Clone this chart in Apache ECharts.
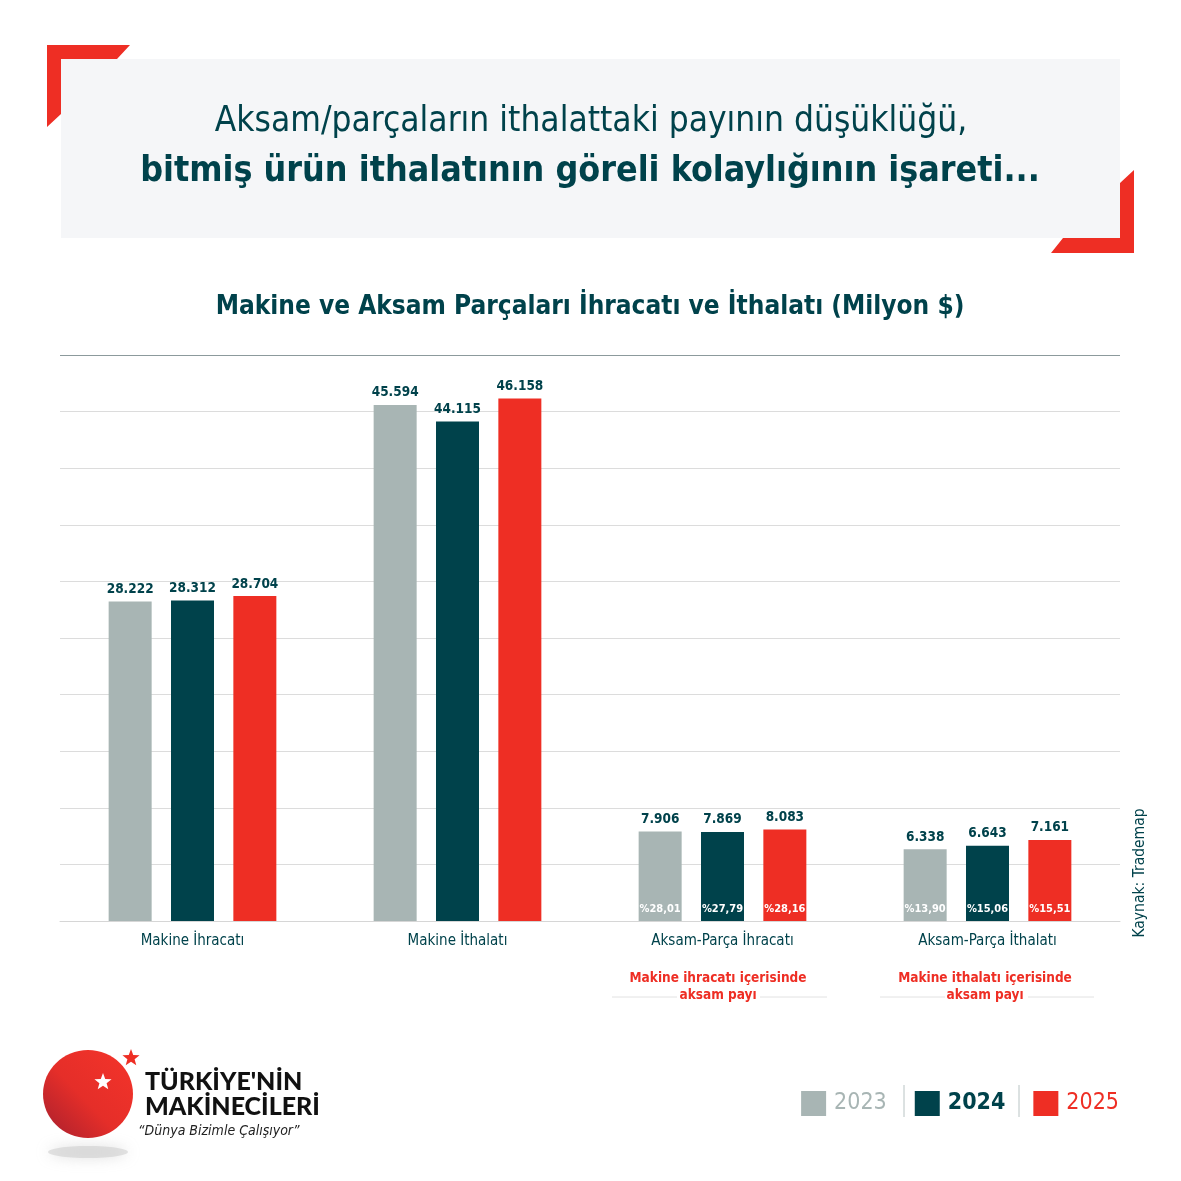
<!DOCTYPE html>
<html>
<head>
<meta charset="utf-8">
<script src="https://cdn.jsdelivr.net/npm/echarts@6/dist/echarts.min.js"></script>
<style>
    html, body { margin: 0; padding: 0; background: #ffffff; }
    #chart { width: 1181px; height: 1181px; }
</style>
</head>
<body>
<div id="chart"></div>
<script>
// Chart data
const categories = ['Makine İhracatı', 'Makine İthalatı', 'Aksam-Parça İhracatı', 'Aksam-Parça İthalatı'];
const years = ['2023', '2024', '2025'];
const values2023 = [28222, 45594, 7906, 6338];
const values2024 = [28312, 44115, 7869, 6643];
const values2025 = [28704, 46158, 8083, 7161];
const share2023 = [null, null, '%28,01', '%13,90'];
const share2024 = [null, null, '%27,79', '%15,06'];
const share2025 = [null, null, '%28,16', '%15,51'];
const yTicks = [0, 5000, 10000, 15000, 20000, 25000, 30000, 35000, 40000, 45000, 50000];

const COND = '"Liberation Sans Narrow", "DejaVu Sans Condensed", "Noto Sans", sans-serif';
const TEAL = '#00424b';
const GRAY = '#a8b5b4';
const RED = '#ee2e24';

const chart = echarts.init(document.getElementById('chart'), null, { renderer: 'canvas' });

function fmt(v) {
    return String(v).replace(/\B(?=(\d{3})+(?!\d))/g, '.');
}

function star(cx, cy, r) {
    const pts = [];
    for (let i = 0; i < 10; i++) {
        const rad = i % 2 === 0 ? r : r * 0.42;
        const a = -Math.PI / 2 + i * Math.PI / 5;
        pts.push([cx + rad * Math.cos(a), cy + rad * Math.sin(a)]);
    }
    return pts;
}

function makeSeries(name, values, shares, color) {
    return {
        name: name,
        type: 'bar',
        data: values,
        barWidth: 43,
        barGap: '45%',
        itemStyle: { color: color },
        label: {
            show: true,
            position: 'top',
            distance: 5,
            color: TEAL,
            fontFamily: COND,
            fontSize: 13.5,
            fontWeight: 'bold',
            formatter: p => fmt(p.value)
        },
        markPoint: {
            symbol: 'circle',
            symbolSize: 1,
            itemStyle: { color: 'rgba(0,0,0,0)' },
            label: {
                show: true,
                position: 'inside',
                offset: [0, -12],
                color: '#ffffff',
                fontFamily: COND,
                fontSize: 11,
                fontWeight: 'bold',
                formatter: p => p.name
            },
            data: shares
                .map((s, i) => s ? { name: s, coord: [i, 0] } : null)
                .filter(d => d)
        }
    };
}

const gridColors = yTicks.map((t, i) => i === yTicks.length - 1 ? '#8c9a9c' : '#dcdcdc');

const option = {
    backgroundColor: '#ffffff',
    animation: false,
    grid: { left: 60, right: 61, top: 355, bottom: 260 },
    legend: {
        right: 57,
        top: 1086,
        itemWidth: 25,
        itemHeight: 25,
        itemGap: 28,
        icon: 'rect',
        selectedMode: false,
        textStyle: { fontFamily: COND, fontSize: 23, padding: [0, 0, 0, 3] },
        data: [
            { name: '2023', textStyle: { color: GRAY } },
            { name: '2024', textStyle: { color: TEAL, fontWeight: 'bold' } },
            { name: '2025', textStyle: { color: RED } }
        ]
    },
    xAxis: {
        type: 'category',
        data: categories,
        axisLine: { show: true, lineStyle: { color: '#d6d6d6', width: 1 } },
        axisTick: { show: false },
        axisLabel: {
            color: TEAL,
            fontFamily: COND,
            fontSize: 15,
            margin: 13
        }
    },
    yAxis: {
        type: 'value',
        min: 0,
        max: 50000,
        interval: 5000,
        axisLine: { show: false },
        axisTick: { show: false },
        axisLabel: { show: false },
        splitLine: { lineStyle: { color: gridColors, width: 1 } }
    },
    series: [
        makeSeries(years[0], values2023, share2023, GRAY),
        makeSeries(years[1], values2024, share2024, TEAL),
        makeSeries(years[2], values2025, share2025, RED)
    ],
    graphic: [
        // header decoration
        { type: 'polygon', shape: { points: [[47, 45], [130, 45], [117, 59], [61, 59], [61, 114], [47, 127]] }, style: { fill: RED } },
        { type: 'polygon', shape: { points: [[1134, 253], [1134, 170], [1120, 183], [1120, 238], [1063, 238], [1051, 253]] }, style: { fill: RED } },
        { type: 'rect', shape: { x: 61, y: 59, width: 1059, height: 179 }, style: { fill: '#f5f6f8' } },
        {
            type: 'text', x: 591, y: 122,
            style: {
                text: 'Aksam/parçaların ithalattaki payının düşüklüğü,',
                fill: TEAL, font: '35px ' + COND, align: 'center', verticalAlign: 'middle'
            }
        },
        {
            type: 'text', x: 590, y: 172,
            style: {
                text: 'bitmiş ürün ithalatının göreli kolaylığının işareti...',
                fill: TEAL, font: 'bold 35.5px ' + COND, align: 'center', verticalAlign: 'middle'
            }
        },
        {
            type: 'text', x: 590, y: 307,
            style: {
                text: 'Makine ve Aksam Parçaları İhracatı ve İthalatı (Milyon $)',
                fill: TEAL, font: 'bold 26px ' + COND, align: 'center', verticalAlign: 'middle'
            }
        },
        // share notes
        {
            type: 'text', x: 718, y: 987,
            style: {
                text: 'Makine ihracatı içerisinde\naksam payı',
                fill: RED, font: 'bold 13.5px ' + COND, align: 'center', verticalAlign: 'middle', lineHeight: 17
            }
        },
        {
            type: 'text', x: 985, y: 987,
            style: {
                text: 'Makine ithalatı içerisinde\naksam payı',
                fill: RED, font: 'bold 13.5px ' + COND, align: 'center', verticalAlign: 'middle', lineHeight: 17
            }
        },
        { type: 'line', shape: { x1: 612, y1: 997, x2: 677, y2: 997 }, style: { stroke: '#e2e2e2', lineWidth: 1 } },
        { type: 'line', shape: { x1: 760, y1: 997, x2: 827, y2: 997 }, style: { stroke: '#e2e2e2', lineWidth: 1 } },
        { type: 'line', shape: { x1: 880, y1: 997, x2: 945, y2: 997 }, style: { stroke: '#e2e2e2', lineWidth: 1 } },
        { type: 'line', shape: { x1: 1028, y1: 997, x2: 1094, y2: 997 }, style: { stroke: '#e2e2e2', lineWidth: 1 } },
        // source
        {
            type: 'text', x: 1140, y: 873, rotation: Math.PI / 2,
            style: {
                text: 'Kaynak: Trademap',
                fill: TEAL, font: '15.5px ' + COND, align: 'center', verticalAlign: 'middle'
            }
        },
        // legend separators
        { type: 'line', shape: { x1: 904, y1: 1085, x2: 904, y2: 1117 }, style: { stroke: '#b9c4c4', lineWidth: 1 } },
        { type: 'line', shape: { x1: 1019, y1: 1085, x2: 1019, y2: 1117 }, style: { stroke: '#b9c4c4', lineWidth: 1 } },
        // logo
        {
            type: 'ellipse', shape: { cx: 88, cy: 1152, rx: 40, ry: 6 },
            style: { fill: 'rgba(200,200,200,0.5)', shadowBlur: 14, shadowColor: 'rgba(180,180,180,0.8)' }
        },
        {
            type: 'ellipse', shape: { cx: 88, cy: 1094, rx: 45, ry: 44 },
            style: {
                fill: new echarts.graphic.LinearGradient(1, 0, 0, 1, [
                    { offset: 0, color: '#f4342a' },
                    { offset: 0.55, color: '#e52e29' },
                    { offset: 1, color: '#a61f2e' }
                ])
            }
        },
        { type: 'polygon', shape: { points: star(103, 1082, 9) }, style: { fill: '#ffffff' } },
        { type: 'polygon', shape: { points: star(131, 1058, 9) }, style: { fill: RED } },
        {
            type: 'text', x: 145, y: 1082,
            style: { text: 'TÜRKİYE\'NİN', fill: '#111111', font: '900 25px Lato, "Open Sans", sans-serif', verticalAlign: 'middle' }
        },
        {
            type: 'text', x: 145, y: 1107,
            style: { text: 'MAKİNECİLERİ', fill: '#111111', font: '900 25px Lato, "Open Sans", sans-serif', verticalAlign: 'middle' }
        },
        {
            type: 'text', x: 138, y: 1131,
            style: { text: '“Dünya Bizimle Çalışıyor”', fill: '#222222', font: 'italic 14px ' + COND, verticalAlign: 'middle' }
        }
    ]
};

chart.setOption(option);
</script>
</body>
</html>
